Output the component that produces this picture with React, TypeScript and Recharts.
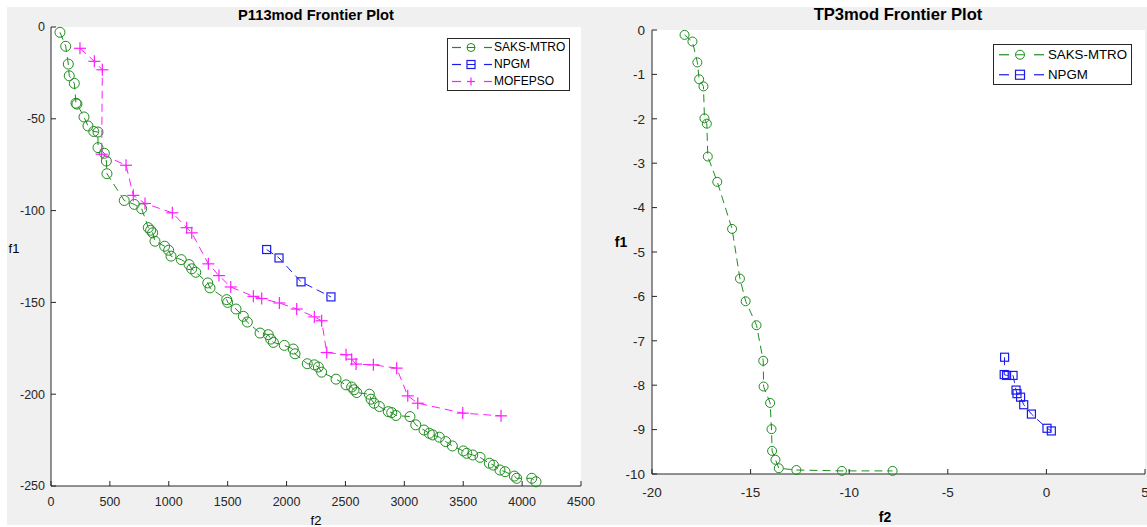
import React from "react";
import { ScatterChart, Scatter, XAxis, YAxis, CartesianGrid, Legend } from "recharts";

const GREEN = "#1e8c1e";
const BLUE = "#1a1aee";
const MAGENTA = "#ff1cff";
const AXIS = "#262626";
const FONT = "'Liberation Sans', Arial, Helvetica, sans-serif";

// P113mod frontier
const p113F2Ticks = [0, 500, 1000, 1500, 2000, 2500, 3000, 3500, 4000, 4500];
const p113F1Ticks = [-250, -200, -150, -100, -50, 0];

const p113SaksF2 = [76, 125, 147, 155, 198, 212, 220, 280, 314, 363, 399, 399, 453, 470, 475, 622, 707, 770, 826, 846, 863, 883, 965, 999, 1019, 1106, 1172, 1195, 1229, 1331, 1350, 1492, 1500, 1571, 1633, 1667, 1775, 1845, 1865, 1888, 1981, 2057, 2072, 2176, 2236, 2270, 2298, 2420, 2505, 2553, 2573, 2596, 2703, 2717, 2743, 2788, 2864, 2893, 2929, 3048, 3097, 3167, 3212, 3241, 3297, 3351, 3408, 3501, 3530, 3581, 3643, 3722, 3756, 3812, 3855, 3934, 3954, 4082, 4118];
const p113SaksF1 = [-2.9, -10.5, -20.2, -26.6, -30.7, -41.5, -42, -49, -53.9, -56.9, -57.2, -65.7, -68.8, -73, -79.9, -94.5, -96.6, -99, -109.3, -110.7, -112.1, -116.7, -119.4, -121.6, -124.8, -126.7, -129.4, -131.7, -133.6, -139.4, -142.1, -148.5, -150, -153.6, -157.6, -160.7, -166.7, -167.6, -170, -171.8, -173.4, -175.4, -178, -183.4, -184, -185.2, -188, -191.8, -194.9, -196.1, -197.6, -199.1, -200, -202.7, -204.9, -206.7, -209.5, -210, -211.6, -212.2, -216.7, -219.5, -221.3, -222.2, -223.4, -225.8, -228.2, -230.9, -232.2, -233.1, -234.4, -237.6, -238.6, -241.3, -242.2, -244.6, -245.8, -245.8, -247.7];

const p113NpgmF2 = [1831, 1936, 2123, 2377];
const p113NpgmF1 = [-121.2, -125.8, -138.8, -147];

const p113MofF2 = [246, 368, 436, 430, 637, 699, 798, 1030, 1152, 1195, 1336, 1426, 1526, 1718, 1789, 1939, 2086, 2236, 2298, 2341, 2505, 2553, 2590, 2737, 2935, 3029, 3114, 3496, 3821];
const p113MofF1 = [-11.6, -18.7, -23.3, -69.3, -75.3, -91.7, -96.1, -101.2, -109.3, -112.1, -129, -135.4, -141.6, -146.7, -147.9, -150.3, -153.6, -157.9, -160, -177.3, -178.5, -180.9, -183.6, -184, -185.8, -200.9, -204.9, -210.3, -211.8];

// TP3mod frontier
const tp3F2Ticks = [-20, -15, -10, -5, 0, 5];
const tp3F1Ticks = [-10, -9, -8, -7, -6, -5, -4, -3, -2, -1, 0];

const tp3SaksF2 = [-18.35, -17.95, -17.7, -17.61, -17.39, -17.34, -17.22, -17.17, -16.69, -15.94, -15.54, -15.25, -14.7, -14.36, -14.34, -14.01, -13.94, -13.91, -13.74, -13.57, -12.68, -10.37, -7.8];
const tp3SaksF1 = [-0.11, -0.26, -0.73, -1.11, -1.27, -1.99, -2.11, -2.85, -3.42, -4.48, -5.6, -6.11, -6.65, -7.45, -8.03, -8.4, -8.99, -9.48, -9.68, -9.87, -9.91, -9.93, -9.93];

const tp3NpgmF2 = [-2.12, -2.14, -2.02, -1.69, -1.54, -1.49, -1.31, -1.15, -0.76, 0.03, 0.25];
const tp3NpgmF1 = [-7.37, -7.76, -7.78, -7.78, -8.11, -8.19, -8.27, -8.44, -8.65, -8.97, -9.03];

const zip = (xs: number[], ys: number[]) => xs.map((f2, i) => ({ f2, f1: ys[i] }));

type Mark = "circle" | "square" | "plus";

const drawMark = (kind: Mark, cx: number, cy: number, s: number, color: string) => {
  if (kind === "circle") return <circle cx={cx} cy={cy} r={s} fill="none" stroke={color} strokeWidth={1} />;
  if (kind === "square")
    return <rect x={cx - s} y={cy - s} width={2 * s} height={2 * s} fill="none" stroke={color} strokeWidth={1.2} />;
  return (
    <g stroke={color} strokeWidth={1.2}>
      <line x1={cx - s} y1={cy} x2={cx + s} y2={cy} />
      <line x1={cx} y1={cy - s} x2={cx} y2={cy + s} />
    </g>
  );
};

const shapeOf = (kind: Mark, s: number, color: string) => (p: any) => drawMark(kind, p.cx, p.cy, s, color);

const makeXTick = (fs: number, off: number) => (p: any) => (
  <g>
    <line x1={p.x} y1={p.y} x2={p.x} y2={p.y - 5} stroke={AXIS} />
    <text x={p.x} y={p.y + off} textAnchor="middle" fontSize={fs} fill={AXIS} fontFamily={FONT}>
      {p.payload.value}
    </text>
  </g>
);

const makeYTick = (fs: number, off: number) => (p: any) => (
  <g>
    <line x1={p.x} y1={p.y} x2={p.x + 5} y2={p.y} stroke={AXIS} />
    <text x={p.x - off} y={p.y + fs * 0.35} textAnchor="end" fontSize={fs} fill={AXIS} fontFamily={FONT}>
      {p.payload.value}
    </text>
  </g>
);

interface LegendItem { name: string; color: string; mark: Mark }

const LegendBox = ({ items, width, rowH, fs, d1, mk, d2, tx, ms }: {
  items: LegendItem[]; width: number; rowH: number; fs: number;
  d1: [number, number]; mk: number; d2: [number, number]; tx: number; ms: number;
}) => (
  <div style={{ border: `1px solid ${AXIS}`, background: "#fff", width, boxSizing: "border-box", position: "relative" }}>
    {items.map((it) => (
      <div key={it.name} style={{ height: rowH, position: "relative" }}>
        <svg width={tx} height={rowH} style={{ position: "absolute", left: 0, top: 0 }}>
          <line x1={d1[0]} y1={rowH / 2} x2={d1[1]} y2={rowH / 2} stroke={it.color} strokeWidth={1.2} />
          <line x1={d2[0]} y1={rowH / 2} x2={d2[1]} y2={rowH / 2} stroke={it.color} strokeWidth={1.2} />
          <line x1={mk - ms} y1={rowH / 2} x2={mk + ms} y2={rowH / 2} stroke={it.color} strokeWidth={1} />
          {drawMark(it.mark, mk, rowH / 2, ms, it.color)}
        </svg>
        <span style={{ position: "absolute", left: tx, top: 0, lineHeight: `${rowH}px`, fontSize: fs, fontFamily: FONT, color: "#000", whiteSpace: "nowrap" }}>
          {it.name}
        </span>
      </div>
    ))}
  </div>
);

const p113Legend: LegendItem[] = [
  { name: "SAKS-MTRO", color: GREEN, mark: "circle" },
  { name: "NPGM", color: BLUE, mark: "square" },
  { name: "MOFEPSO", color: MAGENTA, mark: "plus" },
];
const tp3Legend: LegendItem[] = [
  { name: "SAKS-MTRO", color: GREEN, mark: "circle" },
  { name: "NPGM", color: BLUE, mark: "square" },
];

const textStyle = (left: number, top: number, fs: number, bold: boolean): React.CSSProperties => ({
  position: "absolute", left, top, fontSize: fs, fontWeight: bold ? "bold" : "normal",
  fontFamily: FONT, color: "#000", transform: "translate(-50%, -50%)", whiteSpace: "nowrap", lineHeight: 1,
});

const dash = "8 5";

export default function App() {
  return (
    <div style={{ position: "absolute", left: 0, top: 0, width: 1147, height: 527, background: "#fff", overflow: "hidden" }}>
      <div style={{ position: "absolute", left: 7, top: 7, width: 1140, height: 518, background: "#f0f0f0" }} />

      <div style={{ position: "absolute", left: 0, top: 0 }}>
        <ScatterChart width={600} height={527} margin={{ top: 27, right: 19, bottom: 11, left: 11 }}>
          <CartesianGrid horizontal={false} vertical={false} fill="#fff" />
          <XAxis type="number" dataKey="f2" domain={[0, 4500]} ticks={p113F2Ticks} interval={0} height={30}
            tickSize={0} tickMargin={0} tickLine={false} axisLine={{ stroke: AXIS }} tick={makeXTick(12.5, 20)} />
          <YAxis type="number" dataKey="f1" domain={[-250, 0]} ticks={p113F1Ticks} interval={0} width={40}
            tickSize={0} tickMargin={0} tickLine={false} axisLine={{ stroke: AXIS }} tick={makeYTick(12.5, 6)} />
          <Legend layout="horizontal" verticalAlign="middle" wrapperStyle={{ left: 447, top: 38, width: 123 }}
            content={() => <LegendBox items={p113Legend} width={123} rowH={17} fs={12} d1={[4, 13]} mk={23} d2={[36, 44]} tx={46} ms={4} />} />
          <Scatter name="SAKS-MTRO" data={zip(p113SaksF2, p113SaksF1)} line={{ stroke: GREEN, strokeDasharray: dash, strokeWidth: 1 }}
            lineType="joint" shape={shapeOf("circle", 5, GREEN)} isAnimationActive={false} />
          <Scatter name="NPGM" data={zip(p113NpgmF2, p113NpgmF1)} line={{ stroke: BLUE, strokeDasharray: dash, strokeWidth: 1 }}
            lineType="joint" shape={shapeOf("square", 4, BLUE)} isAnimationActive={false} />
          <Scatter name="MOFEPSO" data={zip(p113MofF2, p113MofF1)} line={{ stroke: MAGENTA, strokeDasharray: dash, strokeWidth: 1 }}
            lineType="joint" shape={shapeOf("plus", 6, MAGENTA)} isAnimationActive={false} />
        </ScatterChart>
      </div>

      <div style={{ position: "absolute", left: 600, top: 0 }}>
        <ScatterChart width={547} height={527} margin={{ top: 30, right: 2, bottom: 23, left: 12 }}>
          <CartesianGrid horizontal={false} vertical={false} fill="#fff" />
          <XAxis type="number" dataKey="f2" domain={[-20, 5]} ticks={tp3F2Ticks} interval={0} height={30}
            tickSize={0} tickMargin={0} tickLine={false} axisLine={{ stroke: AXIS }} tick={makeXTick(13.5, 23)} />
          <YAxis type="number" dataKey="f1" domain={[-10, 0]} ticks={tp3F1Ticks} interval={0} width={40}
            tickSize={0} tickMargin={0} tickLine={false} axisLine={{ stroke: AXIS }} tick={makeYTick(13.5, 7)} />
          <Legend layout="horizontal" verticalAlign="middle" wrapperStyle={{ left: 393, top: 44, width: 139 }}
            content={() => <LegendBox items={tp3Legend} width={139} rowH={19.5} fs={13.3} d1={[5, 15]} mk={26} d2={[40, 50]} tx={54} ms={4.5} />} />
          <Scatter name="SAKS-MTRO" data={zip(tp3SaksF2, tp3SaksF1)} line={{ stroke: GREEN, strokeDasharray: dash, strokeWidth: 1 }}
            lineType="joint" shape={shapeOf("circle", 4.5, GREEN)} isAnimationActive={false} />
          <Scatter name="NPGM" data={zip(tp3NpgmF2, tp3NpgmF1)} line={{ stroke: BLUE, strokeDasharray: dash, strokeWidth: 1 }}
            lineType="joint" shape={shapeOf("square", 4, BLUE)} isAnimationActive={false} />
        </ScatterChart>
      </div>

      <div style={textStyle(316, 15, 14.7, true)}>P113mod Frontier Plot</div>
      <div style={textStyle(14, 248, 13, false)}>f1</div>
      <div style={textStyle(316, 520, 13, false)}>f2</div>

      <div style={textStyle(898, 15, 16.6, true)}>TP3mod Frontier Plot</div>
      <div style={textStyle(621, 242, 14, true)}>f1</div>
      <div style={textStyle(885, 517, 14, true)}>f2</div>
    </div>
  );
}
